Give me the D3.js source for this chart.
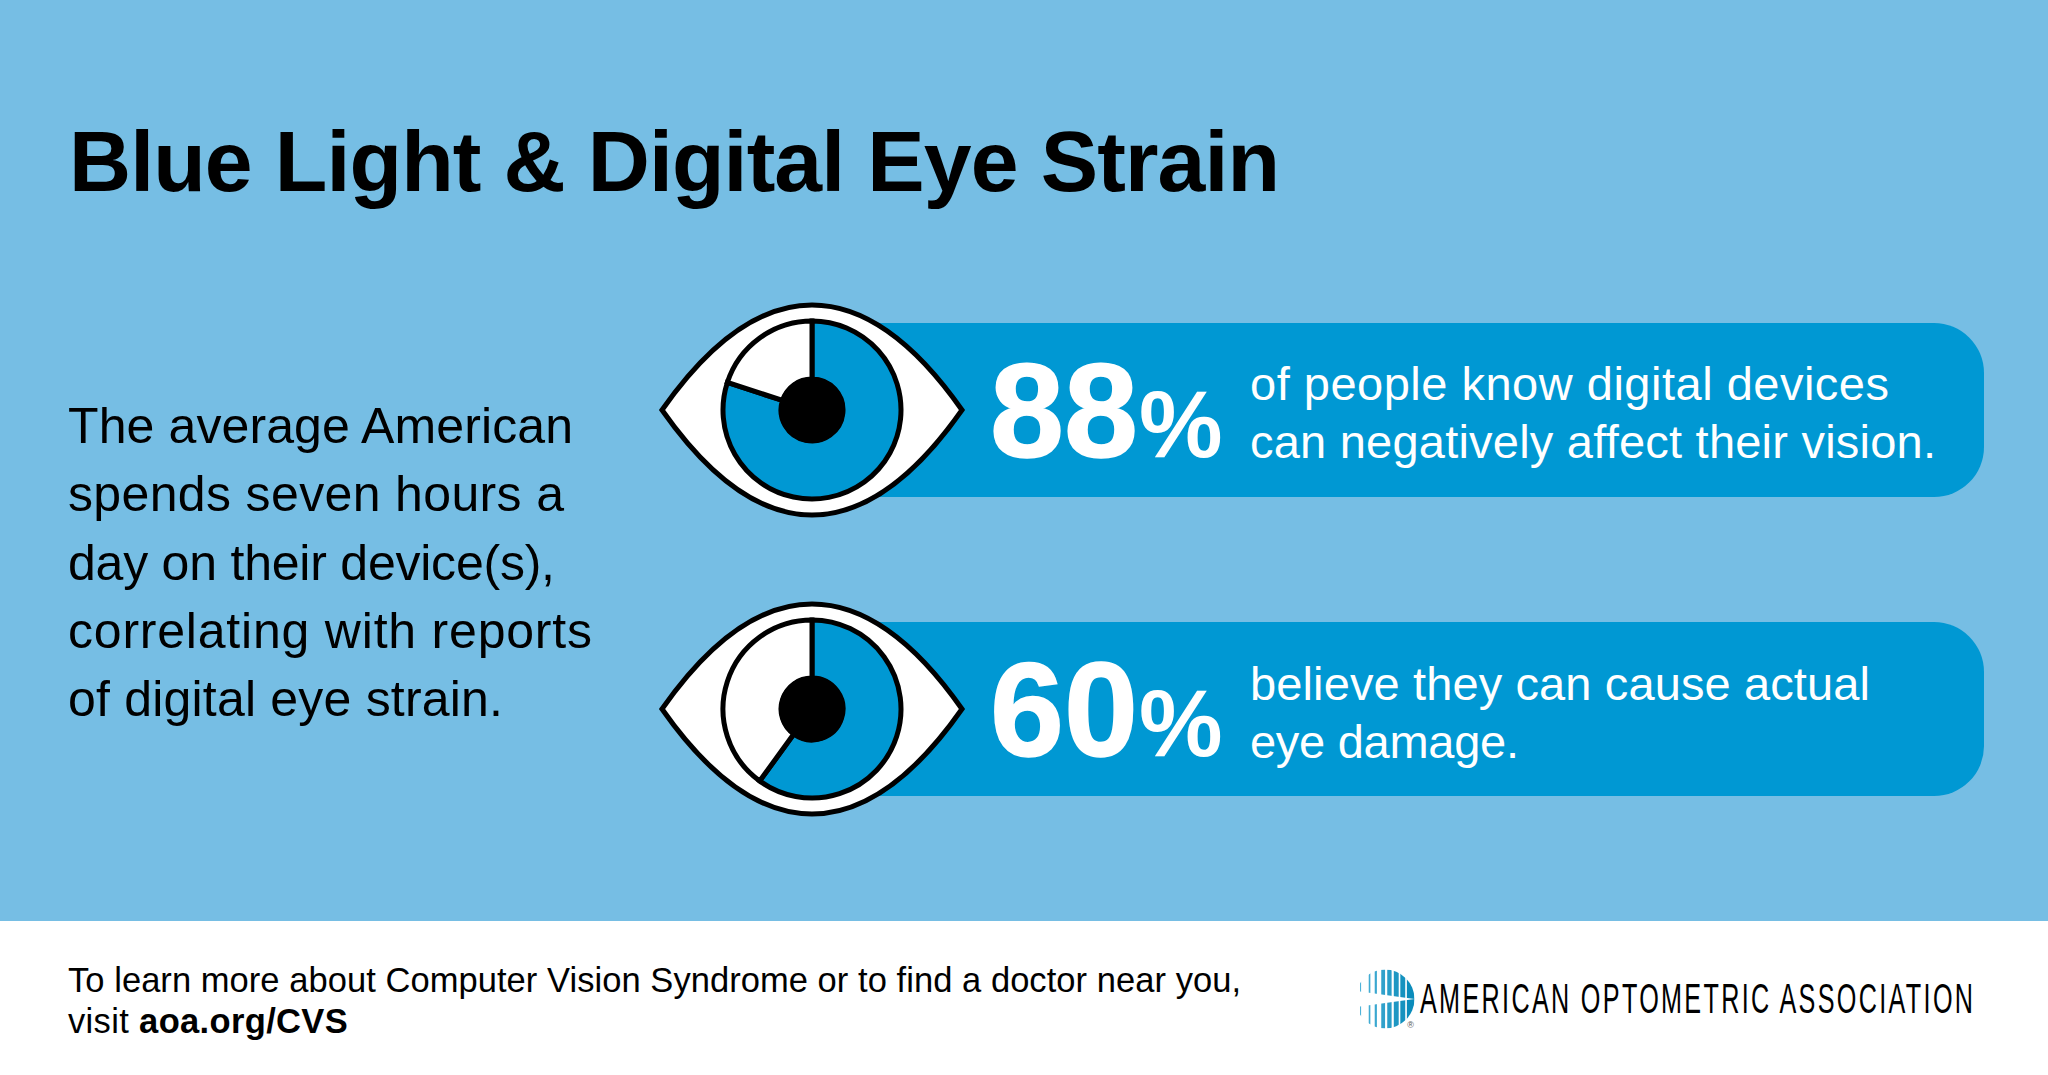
<!DOCTYPE html>
<html>
<head>
<meta charset="utf-8">
<title>Blue Light & Digital Eye Strain</title>
<script src="https://cdn.jsdelivr.net/npm/d3@7"></script>
<style>
  html, body { margin: 0; padding: 0; background: #fff; }
  svg { display: block; }
  text { font-family: "Liberation Sans", Arial, sans-serif; }
</style>
</head>
<body>
<svg id="chart" width="2048" height="1075"></svg>
<script>
const titleText = 'Blue Light & Digital Eye Strain';
const introLines = [
  'The average American',
  'spends seven hours a',
  'day on their device(s),',
  'correlating with reports',
  'of digital eye strain.'
];
// printed number next to each eye
const statLabels = [88, 60];
// share of the iris coloured blue (first eye is drawn near 80, not 88)
const irisShares = [80, 60];
const statLines = [
  ['of people know digital devices', 'can negatively affect their vision.'],
  ['believe they can cause actual', 'eye damage.']
];
const footerLine = 'To learn more about Computer Vision Syndrome or to find a doctor near you,';
const footerLead = 'visit ';
const footerLink = 'aoa.org/CVS';
const logoName = 'AMERICAN OPTOMETRIC ASSOCIATION';
// logo stripe edges as fractions of the logo width, left to right
const logoStripes = [[0, .02], [.16, .19], [.27, .31], [.39, .46], [.50, .58], [.62, .71], [.74, .83], [.86, 1]];

// line widths measured on the reference, the fonts differ a little from Helvetica
const introWidths = [505, 496, 487, 524, 435];
const statWidths = [[639, 686], [620, 269]];

const blue = '#0098d3';
const sky = '#76bee4';

const svg = d3.select('#chart');
svg.append('rect').attr('width', 2048).attr('height', 921).attr('fill', sky);

svg.append('text')
  .attr('x', 69).attr('y', 191)
  .attr('font-size', 86).attr('font-weight', 700)
  .attr('textLength', 1211).attr('lengthAdjust', 'spacing')
  .text(titleText);

// left paragraph
const introY = d3.scaleLinear().domain([0, introLines.length - 1]).range([443, 716]);
svg.selectAll('.intro').data(introLines).join('text')
  .attr('class', 'intro')
  .attr('x', 68).attr('y', (d, i) => introY(i))
  .attr('font-size', 50)
  .attr('textLength', (d, i) => introWidths[i]).attr('lengthAdjust', 'spacing')
  .text(d => d);

// rows with the band, the eye and the stat
const rowY = d3.scaleLinear().domain([0, 1]).range([410, 709]);
const eyeX = 812;
const pie = d3.pie().sort(null).value(d => d);
const irisArc = d3.arc().innerRadius(31).outerRadius(89);

function eyePath(w, h) {
  const p = d3.path();
  p.moveTo(-w, 0);
  p.bezierCurveTo(-w + .30 * w, -.61 * h, -w + .63 * w, -h, 0, -h);
  p.bezierCurveTo(w - .63 * w, -h, w - .30 * w, -.61 * h, w, 0);
  p.bezierCurveTo(w - .30 * w, .61 * h, w - .63 * w, h, 0, h);
  p.bezierCurveTo(-w + .63 * w, h, -w + .30 * w, .61 * h, -w, 0);
  p.closePath();
  return p.toString();
}

statLabels.forEach((label, i) => {
  const cy = rowY(i);
  const row = svg.append('g');

  row.append('rect')
    .attr('x', eyeX).attr('y', cy - 87)
    .attr('width', 1984 - eyeX).attr('height', 174)
    .attr('rx', 50).attr('fill', blue);

  const eye = row.append('g').attr('transform', `translate(${eyeX},${cy})`);
  eye.append('path')
    .attr('d', eyePath(150, 105))
    .attr('fill', '#fff').attr('stroke', '#000').attr('stroke-width', 5);
  eye.selectAll('.slice')
    .data(pie([irisShares[i], 100 - irisShares[i]]))
    .join('path')
    .attr('class', 'slice')
    .attr('d', irisArc)
    .attr('fill', (d, j) => j === 0 ? blue : '#fff')
    .attr('stroke', '#000').attr('stroke-width', 5);
  eye.append('circle').attr('r', 33).attr('fill', '#000');

  row.append('text')
    .attr('x', 990).attr('y', cy + 47)
    .attr('font-size', 133).attr('font-weight', 700).attr('fill', '#fff')
    .attr('stroke', '#fff').attr('stroke-width', 1.5)
    .text(label);
  row.append('text')
    .attr('x', 1139).attr('y', cy + 47)
    .attr('font-size', 94).attr('font-weight', 700).attr('fill', '#fff')
    .text('%');

  row.selectAll('.stat').data(statLines[i]).join('text')
    .attr('class', 'stat')
    .attr('x', 1250).attr('y', (d, j) => cy - 10 + i + j * 58)
    .attr('font-size', 47).attr('fill', '#fff')
    .attr('textLength', (d, j) => statWidths[i][j]).attr('lengthAdjust', 'spacing')
    .text(d => d);
});

// footer
svg.append('text')
  .attr('x', 68).attr('y', 992)
  .attr('font-size', 34.5)
  .attr('textLength', 1173).attr('lengthAdjust', 'spacing')
  .text(footerLine);
const foot = svg.append('text')
  .attr('x', 68).attr('y', 1033)
  .attr('font-size', 34.5).attr('letter-spacing', .35);
foot.append('tspan').text(footerLead);
foot.append('tspan').attr('font-weight', 700).text(footerLink);

// logo mark
const logoCx = 1385, logoCy = 999, logoR = 29.5;
const defs = svg.append('defs');
defs.append('clipPath').attr('id', 'logoClip')
  .append('circle').attr('cx', logoCx).attr('cy', logoCy).attr('r', logoR);

const logoXScale = d3.scaleLinear().domain([0, 1]).range([logoCx - 25, logoCx + logoR]);
const logo = svg.append('g').attr('clip-path', 'url(#logoClip)');
logo.selectAll('rect').data(logoStripes).join('rect')
  .attr('x', d => logoXScale(d[0]))
  .attr('y', logoCy - logoR)
  .attr('width', d => logoXScale(d[1]) - logoXScale(d[0]))
  .attr('height', logoR * 2)
  .attr('fill', d => d3.interpolateRgb('#4fb3d9', '#0086b6')(d[0]));
const wedge = d3.path();
wedge.moveTo(logoCx + logoR, logoCy);
wedge.lineTo(logoCx - 25, logoCy - 7.5);
wedge.lineTo(logoCx - 25, logoCy + 7.5);
wedge.closePath();
logo.append('path').attr('d', wedge.toString()).attr('fill', '#fff');

svg.append('text')
  .attr('x', 1410.5).attr('y', 1028)
  .attr('text-anchor', 'middle').attr('font-size', 9).attr('fill', '#555')
  .text('®');

// squeezed glyphs with open spacing, like the logotype
const logoSqueeze = .6;
svg.append('g')
  .attr('transform', `translate(1420,1013) scale(${logoSqueeze},1)`)
  .append('text')
  .attr('textLength', 553 / logoSqueeze).attr('lengthAdjust', 'spacing')
  .attr('font-size', 42)
  .text(logoName);
</script>
</body>
</html>
